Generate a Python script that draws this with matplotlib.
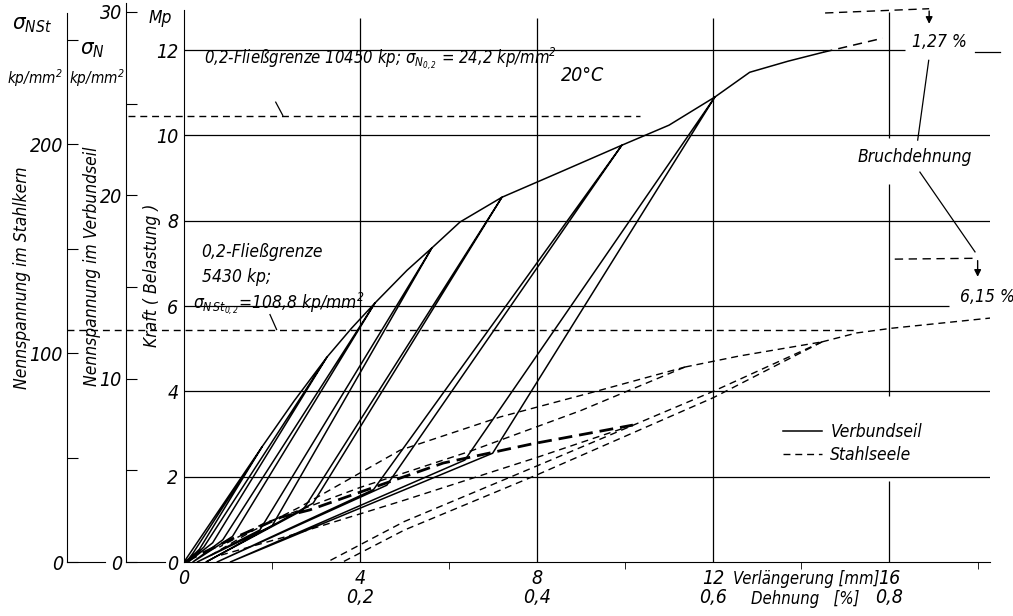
import matplotlib
matplotlib.use("Agg")
import matplotlib.pyplot as plt
import matplotlib.transforms as mtrans
from matplotlib import font_manager as fm

# pick the narrowest installed sans face for the condensed drafting lettering
fonts = fm.fontManager.ttflist
names = {f.name for f in fonts}
if 'Liberation Sans Narrow' in names:
    FAM, PAT = 'Liberation Sans Narrow', 'Liberation Sans Narrow:style=italic'
    plt.rcParams['font.stretch'] = 'normal'
elif any(f.name == 'DejaVu Sans' and f.stretch == 'condensed' for f in fonts):
    FAM, PAT = 'DejaVu Sans', 'DejaVu Sans:style=italic:stretch=condensed'
    plt.rcParams['font.stretch'] = 'condensed'
else:
    FAM, PAT = 'Liberation Sans', 'Liberation Sans:style=italic'
plt.rcParams['font.family'] = [FAM, 'DejaVu Sans']
plt.rcParams['font.style'] = 'italic'
plt.rcParams['mathtext.fontset'] = 'custom'
plt.rcParams['mathtext.it'] = PAT
plt.rcParams['mathtext.rm'] = PAT
plt.rcParams['mathtext.default'] = 'it'

# --- Verbundseil (solid): peaks of the load cycles, knees, residual elongation
vs_peak_x = [1.77, 3.24, 4.33, 5.62, 7.21, 9.93, 12.04]
vs_peak_y = [2.70, 4.80, 6.07, 7.36, 8.55, 9.77, 10.90]
vs_knee_x = [0.20, 0.45, 0.88, 1.72, 2.70, 4.30, 6.37]
vs_knee_y = [0.20, 0.35, 0.52, 0.75, 1.22, 1.70, 2.39]
vs_rest_x = [0.05, 0.10, 0.20, 0.30, 0.50, 0.75, 1.05]
vs_reknee_x = [0.35, 0.65, 1.10, 2.00, 2.93, 4.60, 7.00]
vs_reknee_y = [0.30, 0.45, 0.60, 0.85, 1.38, 1.80, 2.55]
vs_mid_x = [2.50, 3.80, 5.06, 6.26, 8.53, 11.00]
vs_mid_y = [3.78, 5.48, 6.84, 7.97, 9.14, 10.24]
vs_tail_x = [12.04, 12.83, 13.70, 14.50]
vs_tail_y = [10.90, 11.48, 11.74, 11.95]
vs_break_x = [14.50, 15.85]
vs_break_y = [11.95, 12.28]

# --- Stahlseele (dashed)
st_first_x = [0, 1.0, 2.2, 2.85, 4.0, 5.88, 7.9, 10.18]
st_first_y = [0, 0.50, 1.05, 1.22, 1.64, 2.32, 2.77, 3.21]
st_back1_x = [10.18, 8.0, 5.0, 2.5, 0.8]
st_back1_y = [3.21, 2.45, 1.45, 0.65, 0.15]
st_load2_x = [0.6, 1.5, 2.63, 4.9, 7.17, 9.2, 11.36]
st_load2_y = [0.15, 0.70, 1.29, 2.62, 3.40, 3.96, 4.57]
st_back2_x = [11.36, 9.0, 6.5, 4.0, 1.8, 0.8]
st_back2_y = [4.57, 3.55, 2.60, 1.75, 0.90, 0.35]
st_load3_x = [11.36, 12.6, 14.47]
st_load3_y = [4.57, 4.83, 5.16]
st_back3a_x = [14.47, 12.0, 8.0, 5.0, 3.25]
st_back3a_y = [5.16, 4.00, 2.25, 0.95, 0.0]
st_back3b_x = [14.47, 12.0, 8.0, 5.0, 3.6]
st_back3b_y = [5.16, 3.85, 2.04, 0.75, 0.0]
st_tail_x = [14.47, 15.26, 16.05, 18.3]
st_tail_y = [5.16, 5.37, 5.48, 5.72]

yield_vs = 10.45   # Mp
yield_st = 5.43    # Mp

x_ticks = [0, 4, 8, 12, 16]
x_labels = ["0", "4\n0,2", "8\n0,4", "12\n0,6", "16\n0,8"]
y_ticks = [0, 2, 4, 6, 8, 10, 12]
grid_y = [2, 4, 6, 8, 10, 12]
grid_xend = [18.3, 18.3, 17.35, 18.3, 18.3, 16.35]

W, H = 1013, 616
FS = 14     # tick numbers
FT = 12.5   # lettering
fig = plt.figure(figsize=(W / 100, H / 100), dpi=100)


def box(x0, y_top, x1, y_bot):
    return [x0 / W, 1 - y_bot / H, (x1 - x0) / W, (y_bot - y_top) / H]


ax = fig.add_axes(box(184, 10, 990, 562))
ax.set_xlim(0, 18.28)
ax.set_ylim(0, 12.94)
for s in ['top', 'right']:
    ax.spines[s].set_visible(False)
ax.set_xticks(x_ticks)
ax.set_xticklabels(x_labels, fontsize=FS, linespacing=1.0)
ax.set_xticks([2, 6, 10, 14, 18], minor=True)
ax.tick_params(axis='x', which='major', length=0, pad=5)
ax.tick_params(axis='x', which='minor', length=5, direction='out')
ax.set_yticks(y_ticks)
ax.set_yticklabels([str(v) for v in y_ticks], fontsize=FS)
ax.tick_params(axis='y', length=0, pad=4)

# grid
ax.hlines(grid_y, 0, grid_xend, color='black', lw=0.9)
ax.vlines([4, 8, 12], 0, 12.75, color='black', lw=0.9)
ax.vlines([16, 16, 16], [0, 3.9, 9.95], [1.9, 8.85, 12.9], color='black', lw=0.9)
ax.plot([17.94, 18.5], [11.95, 11.95], color='black', lw=0.9, clip_on=False)

# Verbundseil path
px, py = [0], [0]
for i in range(len(vs_peak_x)):
    px += [vs_peak_x[i], vs_knee_x[i], vs_rest_x[i], vs_reknee_x[i], vs_peak_x[i]]
    py += [vs_peak_y[i], vs_knee_y[i], 0, vs_reknee_y[i], vs_peak_y[i]]
    if i < len(vs_mid_x):
        px.append(vs_mid_x[i])
        py.append(vs_mid_y[i])
ax.plot(px, py, color='black', lw=1.1, label='Verbundseil')
ax.plot(vs_tail_x, vs_tail_y, color='black', lw=1.1)
ax.plot(vs_break_x, vs_break_y, color='black', lw=1.1, ls=(0, (6, 4)))

# Stahlseele
thin = dict(color='black', lw=1.0, ls=(0, (5, 3.5)))
ax.plot(st_first_x, st_first_y, color='black', lw=2.0, ls=(0, (5, 2.5)))
ax.plot(st_back1_x, st_back1_y, **thin)
ax.plot(st_load2_x, st_load2_y, label='Stahlseele', **thin)
ax.plot(st_back2_x, st_back2_y, **thin)
ax.plot(st_load3_x, st_load3_y, **thin)
ax.plot(st_back3a_x, st_back3a_y, **thin)
ax.plot(st_back3b_x, st_back3b_y, **thin)
ax.plot(st_tail_x, st_tail_y, **thin)

# yield lines
ax.plot([-1.27, 10.34], [yield_vs, yield_vs], color='black', lw=1.0,
        ls=(0, (5, 3.5)), clip_on=False)
ax.plot([-2.65, 15.26], [yield_st, yield_st], color='black', lw=1.0,
        ls=(0, (5, 3.5)), clip_on=False)
ax.plot([2.08, 2.24], [10.78, 10.47], color='black', lw=0.9)
ax.plot([1.95, 2.1], [5.8, 5.45], color='black', lw=0.9)

ax.text(0.45, 11.8, "0,2-Fließgrenze 10450 kp; $\\sigma_{N_{0,2}}$ = 24,2 kp/mm$^2$",
        fontsize=FT - 0.5, va='center', ha='left')
ax.text(0.4, 7.27, "0,2-Fließgrenze", fontsize=FT, va='center')
ax.text(0.4, 6.67, "5430 kp;", fontsize=FT, va='center')
ax.text(0.2, 6.05, "$\\sigma_{N\\,St_{0,2}}$=108,8 kp/mm$^2$", fontsize=FT, va='center')
ax.text(9.05, 11.41, "20°C", fontsize=FS, va='center', ha='center')

# Bruchdehnung annotations
ax.plot([14.54, 16.9], [12.87, 12.97], color='black', lw=1.0, ls=(0, (6, 4)), clip_on=False)
ax.annotate("", xy=(16.9, 12.55), xytext=(16.9, 12.98),
            arrowprops=dict(arrowstyle='-|>', color='black', lw=1.0, mutation_scale=10),
            annotation_clip=False)
ax.text(16.5, 12.19, "1,27 %", fontsize=FT, va='center', ha='left')
ax.plot([16.89, 16.64], [11.76, 9.89], color='black', lw=0.9)
ax.text(16.58, 9.49, "Bruchdehnung", fontsize=FT, va='center', ha='center')
ax.plot([16.69, 17.94], [9.14, 7.27], color='black', lw=0.9)
ax.plot([16.12, 18.0], [7.10, 7.12], color='black', lw=1.0, ls=(0, (6, 4)), clip_on=False)
ax.annotate("", xy=(18.0, 6.62), xytext=(18.0, 7.13),
            arrowprops=dict(arrowstyle='-|>', color='black', lw=1.0, mutation_scale=10),
            annotation_clip=False)
ax.text(17.6, 6.21, "6,15 %", fontsize=FT, va='center', ha='left')

ax.legend(loc='upper left', bbox_to_anchor=(0.733, 0.268), frameon=False,
          fontsize=FT, handlelength=2.2, borderpad=0, labelspacing=0.3,
          handletextpad=0.5)

# axis texts
tb = mtrans.blended_transform_factory(ax.transData, ax.transAxes)
ax.text(12.45, -0.014, "Verlängerung [mm]", transform=tb, fontsize=FT - 0.5, va='top', ha='left')
ax.text(12.85, -0.05, "Dehnung   [%]", transform=tb, fontsize=FT - 0.5, va='top', ha='left')
ax.text(-0.04, 0.52, "Kraft ( Belastung )", transform=ax.transAxes, rotation=90,
        fontsize=FT, va='center', ha='center')
ax.text(-0.03, 0.985, "Mp", transform=ax.transAxes, fontsize=FT, va='center', ha='center')

# sigma_N axis (Verbundseil)
ax_n = fig.add_axes(box(126, 3, 165, 562))
ax_n.set_ylim(0, 30.49)
ax_n.set_xlim(0, 1)
for s in ['top', 'right']:
    ax_n.spines[s].set_visible(False)
ax_n.set_xticks([])
ax_n.set_yticks([0, 5, 10, 15, 20, 25, 30])
ax_n.set_yticklabels(["0", "", "10", "", "20", "", "30"], fontsize=FS)
ax_n.tick_params(axis='y', direction='in', length=8, pad=3)
ax_n.patch.set_alpha(0)
fig.text(80 / W, 1 - 50 / H, "$\\sigma_N$", fontsize=FS + 2, va='center', ha='left')
fig.text(125 / W, 1 - 78 / H, "kp/mm$^2$", fontsize=FT - 1.5, va='center', ha='right')
fig.text(92 / W, 1 - 266 / H, "Nennspannung im Verbundseil", rotation=90,
         fontsize=FT, va='center', ha='center')

# sigma_NSt axis (Stahlkern)
ax_s = fig.add_axes(box(67, 13, 105, 562))
ax_s.set_ylim(0, 262.7)
ax_s.set_xlim(0, 1)
for s in ['top', 'right']:
    ax_s.spines[s].set_visible(False)
ax_s.set_xticks([])
ax_s.set_yticks([0, 50, 100, 150, 200, 250])
ax_s.set_yticklabels(["0", "", "100", "", "200", ""], fontsize=FS)
ax_s.tick_params(axis='y', direction='in', length=8, pad=3)
ax_s.patch.set_alpha(0)
fig.text(12 / W, 1 - 25 / H, "$\\sigma_{NSt}$", fontsize=FS + 2, va='center', ha='left')
fig.text(63 / W, 1 - 78 / H, "kp/mm$^2$", fontsize=FT - 1.5, va='center', ha='right')
fig.text(22 / W, 1 - 278 / H, "Nennspannung im Stahlkern", rotation=90,
         fontsize=FT, va='center', ha='center')

fig.savefig("out.png", dpi=100)
